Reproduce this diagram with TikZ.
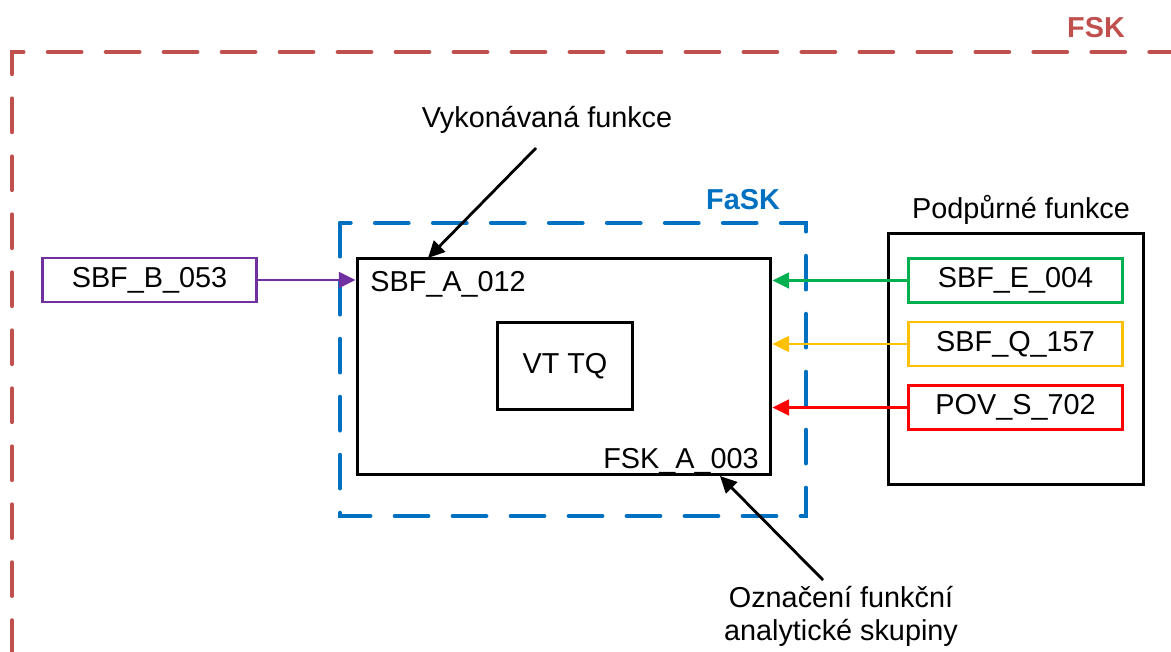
\documentclass[tikz,border=0pt]{standalone}
\usepackage{fontspec}
\setmainfont{Liberation Sans}
\usepackage{xcolor}
\usetikzlibrary{arrows.meta,positioning}

\definecolor{fskred}{HTML}{C0504D}
\definecolor{faskblue}{HTML}{0070C0}
\definecolor{fpurple}{HTML}{7030A0}
\definecolor{fgreen}{HTML}{00B050}
\definecolor{fyellow}{HTML}{FFC000}
\definecolor{fred}{HTML}{FF0000}

\begin{document}
\begin{tikzpicture}[
  x=0.02cm, y=-0.02cm,
  font=\fontsize{16.4}{18.5}\selectfont,
  fbox/.style={draw, line width=1.7pt, minimum width=4.3cm, minimum height=0.88cm,
               inner sep=0pt},
  frame/.style={draw, line width=1.7pt, inner sep=0pt},
  txt/.style={inner sep=0pt},
  title/.style={inner sep=0pt, font=\fontsize{16.4}{18.5}\selectfont\bfseries},
  group/.style={line width=2.5pt, line cap=round, dash pattern=on 19pt off 14pt},
  arrow/.style={-{Triangle[length=9.5pt, width=9pt]}, line width=1.6pt}
]
\useasboundingbox (0,0) rectangle (1171,652);

% FSK and FaSK groups
\draw[group, fskred, dash phase=18.1pt] (12,680) -- (12,52) -- (1200,52);
\node[title, text=fskred, anchor=base] (fsk) at (1096,38) {FSK};
\draw[group, faskblue] (340,223) -- (340,516) -- (806,516) -- (806,223) -- cycle;
\node[title, text=faskblue, anchor=base] (fask) at (743,210) {FaSK};

% main function
\node[frame, minimum width=8.28cm, minimum height=4.34cm] (main) at (564,366.5) {};
\node[txt, anchor=base west] (sbfA) at (370,292) {SBF\_A\_012};
\node[txt, anchor=base east] (fskA) at (759,468) {FSK\_A\_003};
\node[frame, minimum width=2.72cm, minimum height=1.76cm] (vttq) at (565,366) {VT TQ};

% inputs
\node[fbox, draw=fpurple] (sbfB) at (149.5,280) {SBF\_B\_053};
\node[frame, minimum width=5.12cm, minimum height=5.04cm] (podp) at (1016,359) {};
\node[txt, anchor=base] (podpl) at (1021,218) {Podpůrné funkce};
\node[fbox, draw=fgreen] (sbfE) at (1015.5,280.5) {SBF\_E\_004};
\node[fbox, draw=fyellow] (sbfQ) at (1015.5,344) {SBF\_Q\_157};
\node[fbox, draw=fred] (povS) at (1015.5,407.5) {POV\_S\_702};

\draw[arrow, fpurple] (sbfB.east) -- (main.west |- sbfB.east);
\draw[arrow, fgreen] (sbfE.west) -- (main.east |- sbfE.west);
\draw[arrow, fyellow] (sbfQ.west) -- (main.east |- sbfQ.west);
\draw[arrow, fred] (povS.west) -- (main.east |- povS.west);

% notes
\node[txt, anchor=base] (vyk) at (547,128) {Vykonávaná funkce};
\coordinate (vykfrom) at (536,148);
\coordinate (vykto) at (428,258);
\draw[arrow] (vykfrom) -- (vykto);
\node[txt, anchor=north, align=center] (ozn) at (841,586) {Označení funkční\\analytické skupiny};
\coordinate (oznfrom) at (823,580);
\coordinate (oznto) at (720,476);
\draw[arrow] (oznfrom) -- (oznto);
\end{tikzpicture}
\end{document}
